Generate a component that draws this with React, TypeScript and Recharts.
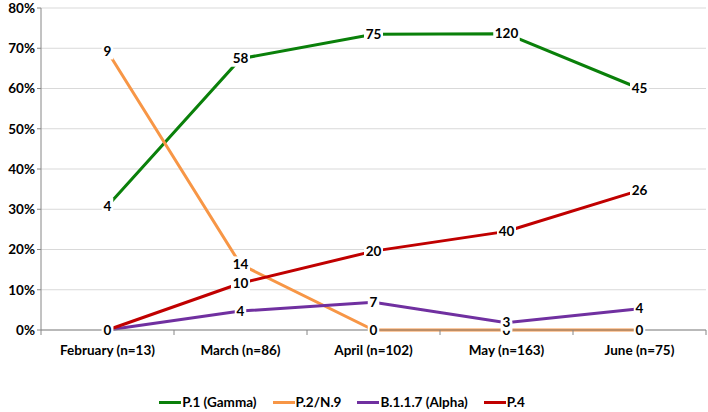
import React from 'react';
import { LineChart, Line, XAxis, YAxis, CartesianGrid, Legend, LabelList } from 'recharts';

const months = ['February (n=13)', 'March (n=86)', 'April (n=102)', 'May (n=163)', 'June (n=75)'];

// share of sequenced samples (%)
const p1Pct = [30.8, 67.4, 73.5, 73.6, 60.0];
const p2Pct = [69.2, 16.3, 0, 0, 0];
const alphaPct = [0, 4.7, 6.9, 1.8, 5.3];
const p4Pct = [0, 11.6, 19.6, 24.5, 34.7];

// raw counts shown as labels
const p1Count = [4, 58, 75, 120, 45];
const p2Count = [9, 14, 0, 0, 0];
const alphaCount = [0, 4, 7, 3, 4];
const p4Count = [0, 10, 20, 40, 26];

const yTicks = [0, 10, 20, 30, 40, 50, 60, 70, 80];

const series = [
  { key: 'p1', name: 'P.1 (Gamma)', color: '#0a800a', pct: p1Pct, count: p1Count },
  { key: 'p2', name: 'P.2/N.9', color: '#f79646', pct: p2Pct, count: p2Count },
  { key: 'alpha', name: 'B.1.1.7 (Alpha)', color: '#7030a0', pct: alphaPct, count: alphaCount },
  { key: 'p4', name: 'P.4', color: '#c00000', pct: p4Pct, count: p4Count },
];

const data = months.map((m, i) => {
  const row: any = { month: m };
  series.forEach((s) => {
    row[s.key] = s.pct[i];
    row[s.key + 'N'] = s.count[i];
  });
  return row;
});

const FONT = 'Lato, "Open Sans", sans-serif';

const CountLabel = (props: any) => {
  const { x, y, value } = props;
  const txt = String(value);
  const w = txt.length * 7.5 + 4;
  return (
    <g>
      <rect x={x - w / 2} y={y - 8} width={w} height={16} fill="#fff" />
      <text x={x} y={y} dy={4.5} textAnchor="middle" fontSize={13.5} fontWeight={700} fill="#000" fontFamily={FONT}>
        {txt}
      </text>
    </g>
  );
};

const MonthTick = (props: any) => {
  const { x, y, payload, index, visibleTicksCount, width } = props;
  const band = (width || 665) / (visibleTicksCount || 5);
  const last = index === (visibleTicksCount || 5) - 1;
  return (
    <g>
      <line x1={x - band / 2} x2={x - band / 2} y1={y - 8} y2={y - 3} stroke="#868686" />
      {last && <line x1={x + band / 2} x2={x + band / 2} y1={y - 8} y2={y - 3} stroke="#868686" />}
      <text x={x} y={y} dy={17} textAnchor="middle" fontSize={13.5} fontWeight={700} fill="#000" fontFamily={FONT}>
        {payload.value}
      </text>
    </g>
  );
};

const LegendContent = () => (
  <div style={{ display: 'flex', justifyContent: 'center', gap: 16, fontFamily: FONT, fontSize: 13.5, fontWeight: 700, paddingRight: 22, paddingTop: 24 }}>
    {series.map((s) => (
      <div key={s.key} style={{ display: 'flex', alignItems: 'center' }}>
        <span style={{ display: 'inline-block', width: 22, height: 3, background: s.color }} />
        <span style={{ marginLeft: 1 }}>{s.name}</span>
      </div>
    ))}
  </div>
);

export default function App() {
  return (
    <div style={{ position: 'absolute', left: 0, top: 0, background: '#fff' }}>
      <LineChart width={708} height={412} data={data} margin={{ top: 8, right: 2, left: 0, bottom: 10 }}>
        <CartesianGrid vertical={false} stroke="#d9d9d9" />
        <XAxis
          dataKey="month"
          scale="band"
          height={30}
          axisLine={{ stroke: '#868686' }}
          tickLine={false}
          tick={<MonthTick />}
          interval={0}
        />
        <YAxis
          width={41}
          domain={[0, 80]}
          ticks={yTicks}
          tickFormatter={(v) => `${v}%`}
          axisLine={{ stroke: '#868686' }}
          tickLine={{ stroke: '#868686' }}
          tickSize={4}
          tick={{ fontSize: 13.5, fontWeight: 700, fill: '#000', fontFamily: FONT }}
          interval={0}
        />
        {series.map((s) => (
          <Line
            key={s.key}
            dataKey={s.key}
            name={s.name}
            stroke={s.color}
            strokeWidth={3}
            dot={false}
            isAnimationActive={false}
          />
        ))}
        {series.map((s) => (
          <Line
            key={s.key + 'lbl'}
            dataKey={s.key}
            stroke="none"
            dot={false}
            legendType="none"
            isAnimationActive={false}
          >
            <LabelList dataKey={s.key + 'N'} content={<CountLabel />} />
          </Line>
        ))}
        <Legend verticalAlign="bottom" height={42} wrapperStyle={{ bottom: 0 }} content={<LegendContent />} />
      </LineChart>
    </div>
  );
}
